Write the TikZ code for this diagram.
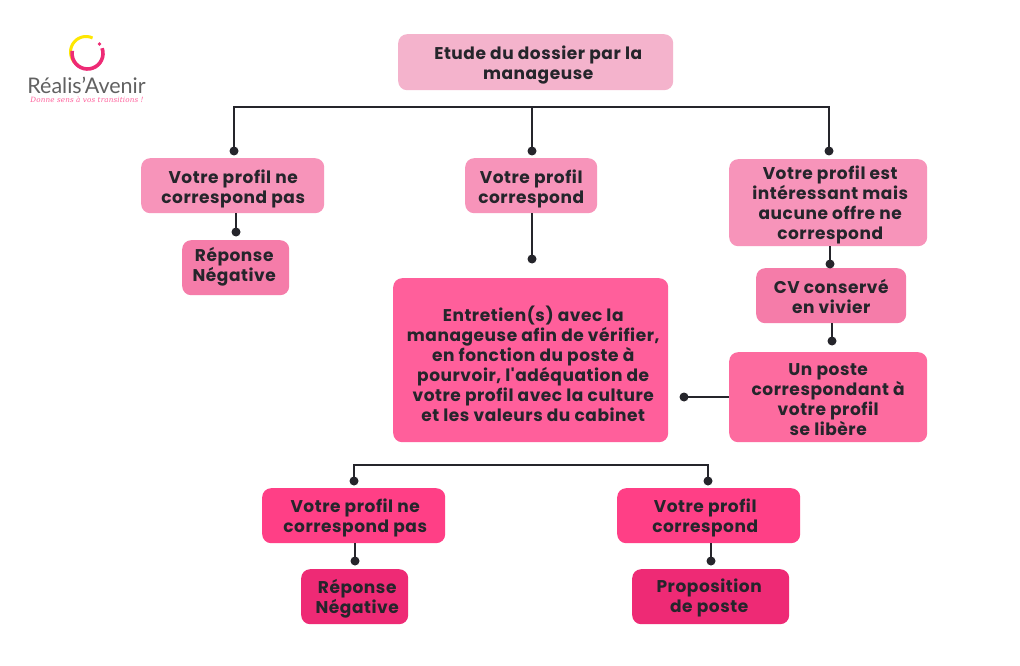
\documentclass[tikz,border=0pt]{standalone}
\usepackage{fontspec}
\newfontfamily\boxfont{Poppins}[UprightFont=*-Bold,BoldFont=*-Bold,LetterSpace=3.2]
\newfontfamily\logofont{Lato}
\newfontfamily\tagfont{DejaVu Serif}[LetterSpace=2]
\definecolor{ink}{HTML}{25252B}
\definecolor{c1}{HTML}{F4B3CC}
\definecolor{c2}{HTML}{F794BA}
\definecolor{c3}{HTML}{F57CA9}
\definecolor{c4}{HTML}{FF5F9B}
\definecolor{c5}{HTML}{FD6B9F}
\definecolor{c6}{HTML}{FF3F86}
\definecolor{c7}{HTML}{EE2A75}
\tikzset{x=1pt,y=-1pt,
  boxn/.style={rounded corners=9pt,inner sep=0pt,text=ink,align=center},
  wire/.style={draw=ink,line width=2pt},
  dotn/.style={circle,fill=ink,inner sep=0pt,minimum size=9pt}}
\newcommand{\bx}[8]{\node[boxn,fill=#6,minimum width=#4-#2,minimum height=#5-#3,anchor=north west] (#1) at (#2,#3) {};
  \node[text=ink,align=center,inner sep=0pt,font=\boxfont\fontsize{17}{20}\selectfont] (#1t) at ($(#1.center)+(#7)$) {#8};}
\usetikzlibrary{calc}
\begin{document}
\begin{tikzpicture}
\useasboundingbox (0,0) rectangle (1020,666);
\fill[white] (0,0) rectangle (1020,666);
% logo
\draw[line width=3pt,draw=yellow!90!orange] (86,52) ++(120:15.5) arc (120:295:15.5);
\draw[line width=3.6pt,draw=c7] (87.5,53.5) ++(-20:15.5) arc (-20:190:15.5);
\fill[c7] (99.5,44) circle (1.9);
\node[font=\logofont\fontsize{21.5}{21.5}\selectfont,text=black!62,inner sep=0pt] (logotext) at (86.5,85.5) {Réalis’Avenir};
\node[font=\tagfont\itshape\fontsize{7.2}{7.2}\selectfont,text=c4,inner sep=0pt] (logotag) at (87,100) {Donne sens à vos transitions !};
% boxes
\bx{top}{398}{34}{673}{90}{c1}{2.5,3}{Etude du dossier par la\\manageuse}
\bx{a}{141}{158}{324}{213}{c2}{0.5,3}{Votre profil ne\\correspond pas}
\bx{b}{465}{158}{597}{213}{c2}{0,3}{Votre profil\\correspond}
\bx{c}{729}{159}{927}{246}{c2}{2,2}{Votre profil est\\intéressant mais\\aucune offre ne\\correspond}
\bx{rn}{182}{240}{289}{295}{c3}{-1.5,-1}{Réponse\\Négative}
\bx{big}{393}{278}{668}{442}{c4}{2.5,4}{Entretien(s) avec la\\manageuse afin de vérifier,\\en fonction du poste à\\pourvoir, l'adéquation de\\votre profil avec la culture\\et les valeurs du cabinet}
\bx{cv}{756}{268}{906}{323}{c3}{0,1}{CV conservé\\en vivier}
\bx{un}{729}{352}{927}{442}{c5}{0,2}{Un poste\\correspondant à\\votre profil\hspace{7pt}\\se libère}
\bx{d}{262}{488}{445}{543}{c6}{1.5,2}{Votre profil ne\\correspond pas}
\bx{e}{617}{488}{800}{543}{c6}{-3.5,2}{Votre profil\\correspond}
\bx{rm}{301}{569}{408}{624}{c7}{2.5,2}{Réponse\\Négative}
\bx{prop}{632}{569}{789}{624}{c7}{-1.5,1}{Proposition\\de poste}
% dots
\node[dotn] (d1) at (234,151) {};
\node[dotn] (d2) at (532,151) {};
\node[dotn] (d3) at (829,151) {};
\node[dotn] (d4) at (236,232) {};
\node[dotn] (d5) at (532,259) {};
\node[dotn] (d6) at (830,264) {};
\node[dotn] (d7) at (832,341) {};
\node[dotn] (d8) at (684,397) {};
\node[dotn] (d9) at (354,481) {};
\node[dotn] (d10) at (708,481) {};
\node[dotn] (d11) at (355,561) {};
\node[dotn] (d12) at (711,561) {};
% connectors
\draw[wire] (d1.center) -- (d1.center |- 0,107) -- (d3.center |- 0,107) -- (d3.center);
\draw[wire] (d2.center) -- (d2.center |- 0,107);
\draw[wire] (d4.center) -- (d4.center |- a.south);
\draw[wire] (d5.center) -- (d5.center |- b.south);
\draw[wire] (d6.center) -- (d6.center |- c.south);
\draw[wire] (d7.center) -- (d7.center |- cv.south);
\draw[wire] (d8.center) -- (d8.center -| un.west);
\draw[wire] (d9.center) -- (d9.center |- 0,465) -- (d10.center |- 0,465) -- (d10.center);
\draw[wire] (d11.center) -- (d11.center |- d.south);
\draw[wire] (d12.center) -- (d12.center |- e.south);
\end{tikzpicture}
\end{document}
